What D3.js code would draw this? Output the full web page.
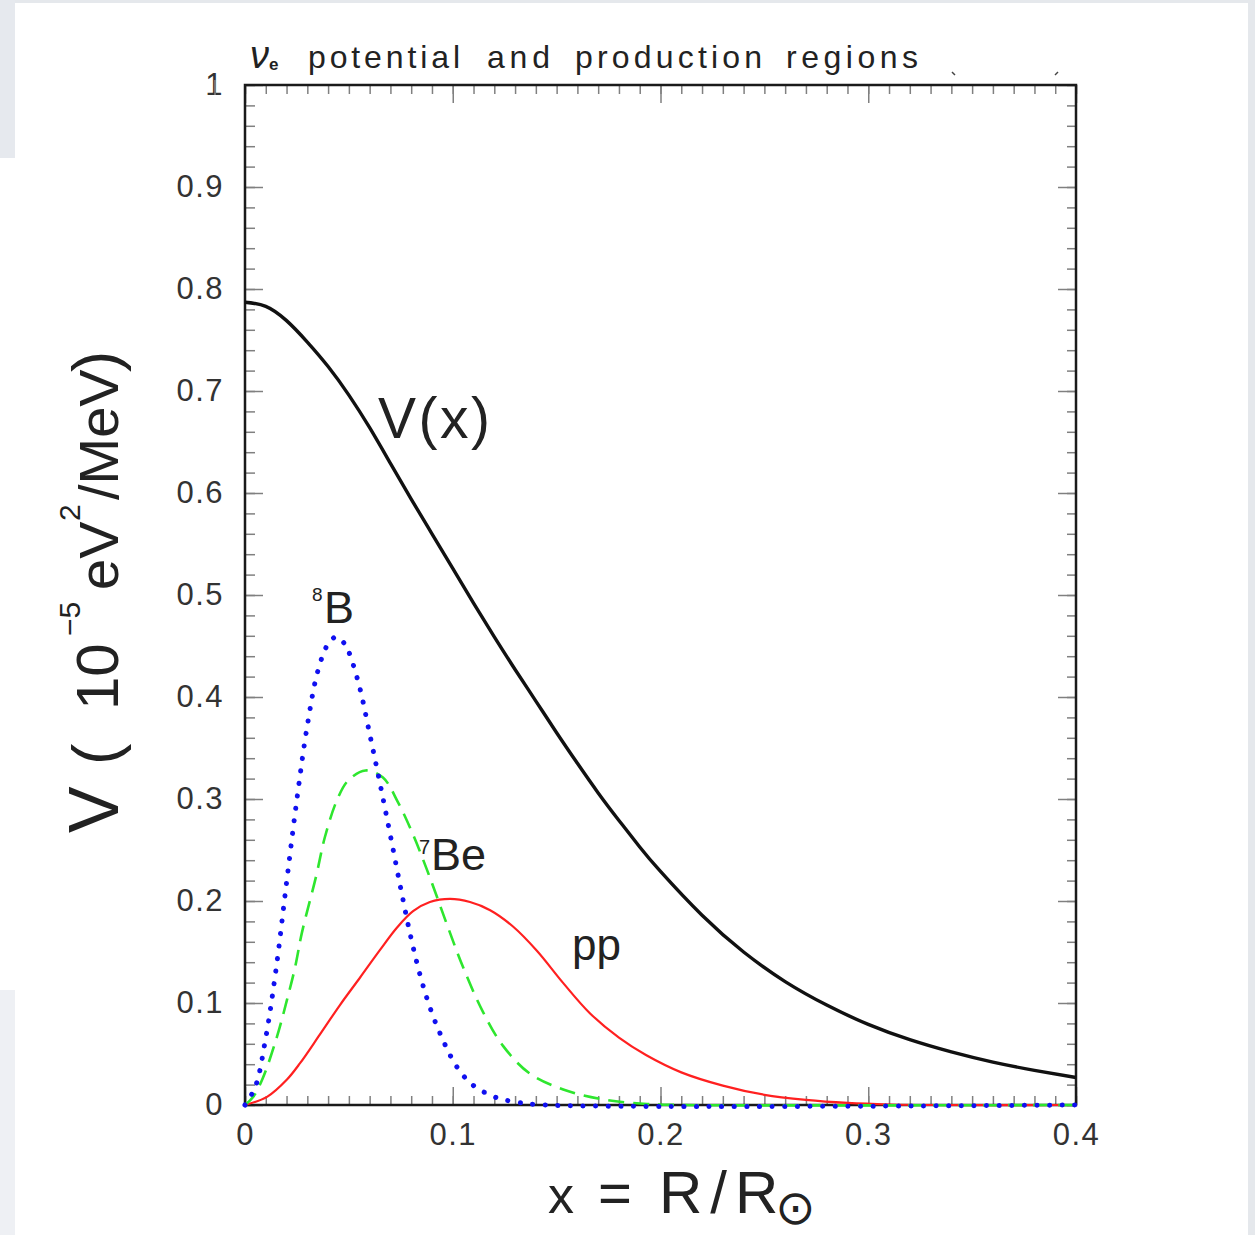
<!DOCTYPE html>
<html>
<head>
<meta charset="utf-8">
<script src="https://cdn.jsdelivr.net/npm/d3@7"></script>
<style>
	body { margin: 0; background: #fff; }
	svg { display: block; }
	text { font-family: "Liberation Sans", Arial, sans-serif; fill: #222; }
	.axis path { display: none; }
	.axis line { stroke: #808080; stroke-width: 1.5; }
	.axis text { font-family: "Liberation Sans", Arial, sans-serif; font-size: 31px; fill: #333; letter-spacing: 1.5px; }
</style>
</head>
<body>
<div id="chart"></div>
<script>

// tick values + labels
var xMajor = [0, 0.1, 0.2, 0.3, 0.4];
var xLabels = ["0", "0.1", "0.2", "0.3", "0.4"];
var yMajor = [0, 0.1, 0.2, 0.3, 0.4, 0.5, 0.6, 0.7, 0.8, 0.9, 1];
var yLabels = ["0", "0.1", "0.2", "0.3", "0.4", "0.5", "0.6", "0.7", "0.8", "0.9", "1"];
var xMinor = d3.range(0, 41).map(function(i){ return i / 100; });	// every 0.01
var yMinor = d3.range(0, 51).map(function(i){ return i / 50; });	// every 0.02

// V(x) potential (black)
var vX = [0, 0.01, 0.02, 0.03, 0.04, 0.05, 0.06, 0.07, 0.08, 0.09, 0.10, 0.11, 0.12, 0.13, 0.14, 0.15,
	0.16, 0.17, 0.18, 0.19, 0.20, 0.22, 0.24, 0.26, 0.28, 0.30, 0.32, 0.34, 0.36, 0.38, 0.40];
var vY = [0.787, 0.783, 0.769, 0.748, 0.724, 0.696, 0.664, 0.629, 0.594, 0.560, 0.526, 0.492, 0.459, 0.427, 0.396, 0.365,
	0.335, 0.306, 0.279, 0.253, 0.229, 0.186, 0.150, 0.121, 0.098, 0.079, 0.064, 0.052, 0.042, 0.034, 0.027];

// 8B production region (blue, dotted)
var b8X = [0, 0.005, 0.01, 0.015, 0.02, 0.025, 0.03, 0.035, 0.04, 0.044, 0.048, 0.05, 0.055, 0.06, 0.065,
	0.07, 0.075, 0.08, 0.085, 0.09, 0.095, 0.10, 0.105, 0.11, 0.12, 0.13, 0.145, 0.40];
var b8Y = [0, 0.018, 0.066, 0.134, 0.218, 0.300, 0.372, 0.425, 0.452, 0.459, 0.452, 0.444, 0.411, 0.364, 0.315,
	0.264, 0.212, 0.163, 0.122, 0.090, 0.065, 0.044, 0.029, 0.019, 0.008, 0.003, 0, 0];

// 7Be production region (green, dashed)
var be7X = [0, 0.004, 0.0087, 0.0154, 0.0202, 0.0241, 0.0274, 0.0342, 0.0385, 0.0443, 0.0496, 0.058, 0.0664,
	0.0736, 0.0809, 0.089, 0.0972, 0.105, 0.1146, 0.1242, 0.137, 0.155, 0.174, 0.1935, 0.209, 0.40];
var be7Y = [0, 0.008, 0.027, 0.067, 0.103, 0.135, 0.169, 0.224, 0.263, 0.299, 0.318, 0.328, 0.321,
	0.297, 0.265, 0.223, 0.177, 0.135, 0.091, 0.058, 0.031, 0.014, 0.005, 0.001, 0, 0];

// pp production region (red, solid)
var ppX = [0, 0.0106, 0.0202, 0.0265, 0.036, 0.0457, 0.0554, 0.065, 0.0732, 0.0809, 0.089, 0.0987, 0.1083, 0.118,
	0.129, 0.1406, 0.153, 0.166, 0.18, 0.193, 0.21, 0.23, 0.25, 0.27, 0.29, 0.31, 0.33, 0.40];
var ppY = [0, 0.008, 0.025, 0.041, 0.069, 0.098, 0.125, 0.152, 0.174, 0.190, 0.199, 0.202, 0.199, 0.191,
	0.175, 0.151, 0.120, 0.090, 0.066, 0.049, 0.032, 0.019, 0.010, 0.005, 0.002, 0.0005, 0, 0];


var width = 1255, height = 1235;
var frame = { left: 245, right: 1076, top: 85, bottom: 1105 };

var svg = d3.select("#chart").append("svg")
	.attr("width", width)
	.attr("height", height);

// grey page edges around the white panel
svg.append("rect").attr("x", 0).attr("y", 0).attr("width", width).attr("height", 3).attr("fill", "#e5e8ec");
svg.append("rect").attr("x", 0).attr("y", 0).attr("width", 15).attr("height", 158).attr("fill", "#e6e9ee");
svg.append("rect").attr("x", 0).attr("y", 990).attr("width", 15).attr("height", 245).attr("fill", "#eef0f4");
svg.append("rect").attr("x", 1248).attr("y", 0).attr("width", 7).attr("height", height).attr("fill", "#e5e8ec");

var xScale = d3.scaleLinear().domain([0, 0.4]).range([frame.left, frame.right]);
var yScale = d3.scaleLinear().domain([0, 1]).range([frame.bottom, frame.top]);

/*
 *	AXES (ticks pointing inward on all four sides)
 */
function axis(gen, tr){
	svg.append("g").attr("class", "axis").attr("transform", tr).call(gen);
}
axis(d3.axisBottom(xScale).tickValues(xMinor).tickSize(-9).tickFormat(""), "translate(0," + frame.bottom + ")");
axis(d3.axisBottom(xScale).tickValues(xMajor).tickSize(-18).tickPadding(18)
	.tickFormat(function(d, i){ return xLabels[i]; }), "translate(0," + frame.bottom + ")");
axis(d3.axisTop(xScale).tickValues(xMinor).tickSize(-9).tickFormat(""), "translate(0," + frame.top + ")");
axis(d3.axisTop(xScale).tickValues(xMajor).tickSize(-18).tickFormat(""), "translate(0," + frame.top + ")");
axis(d3.axisLeft(yScale).tickValues(yMinor).tickSize(-10).tickFormat(""), "translate(" + frame.left + ",0)");
axis(d3.axisLeft(yScale).tickValues(yMajor).tickSize(-18).tickPadding(21)
	.tickFormat(function(d, i){ return yLabels[i]; }), "translate(" + frame.left + ",0)");
axis(d3.axisRight(yScale).tickValues(yMinor).tickSize(-9).tickFormat(""), "translate(" + frame.right + ",0)");
axis(d3.axisRight(yScale).tickValues(yMajor).tickSize(-18).tickFormat(""), "translate(" + frame.right + ",0)");

// frame
svg.append("rect")
	.attr("x", frame.left).attr("y", frame.top)
	.attr("width", frame.right - frame.left).attr("height", frame.bottom - frame.top)
	.attr("fill", "none").attr("stroke", "#1a1a1a").attr("stroke-width", 2.5);

// stray marks of the original picture
svg.append("line").attr("x1", 215).attr("x2", 215).attr("y1", 80).attr("y2", 95).attr("stroke", "#888").attr("stroke-width", 1.5);
svg.append("line").attr("x1", 952).attr("x2", 955).attr("y1", 72).attr("y2", 75).attr("stroke", "#444").attr("stroke-width", 1.5);
svg.append("line").attr("x1", 1058).attr("x2", 1055).attr("y1", 72).attr("y2", 75).attr("stroke", "#444").attr("stroke-width", 1.5);

/*
 *	CURVES
 */
function line(curve){
	return d3.line()
		.x(function(d){ return xScale(d[0]); })
		.y(function(d){ return yScale(d[1]); })
		.curve(curve);
}
var smooth = d3.curveCatmullRom.alpha(0.5);

svg.append("path").datum(d3.zip(ppX, ppY))
	.attr("d", line(smooth)).attr("fill", "none")
	.attr("stroke", "#ff2020").attr("stroke-width", 2.2);

svg.append("path").datum(d3.zip(be7X, be7Y))
	.attr("d", line(smooth)).attr("fill", "none")
	.attr("stroke", "#2ee62e").attr("stroke-width", 2.6)
	.attr("stroke-dasharray", "16,9");

svg.append("path").datum(d3.zip(b8X, b8Y))
	.attr("d", line(smooth)).attr("fill", "none")
	.attr("stroke", "#1010f0").attr("stroke-width", 5)
	.attr("stroke-linecap", "round")
	.attr("stroke-dasharray", "0.1,12.5");

svg.append("path").datum(d3.zip(vX, vY))
	.attr("d", line(d3.curveNatural)).attr("fill", "none")
	.attr("stroke", "#111").attr("stroke-width", 3.4);

/*
 *	LABELS
 */
// title
var title = svg.append("text").attr("x", 250).attr("y", 68);
title.append("tspan").text("ν").style("font-style", "italic").style("font-size", "38px");
title.append("tspan").text("e").style("font-size", "17px").style("font-weight", "bold").attr("dy", 2);
var words = [["potential", 308, 152], ["and", 487, 63], ["production", 575, 187], ["regions", 786, 132]];
words.forEach(function(w){
	svg.append("text").attr("x", w[1]).attr("y", 68)
		.attr("textLength", w[2]).attr("lengthAdjust", "spacing")
		.style("font-size", "32px")
		.text(w[0]);
});

// y axis title, written upward piece by piece: [text, start y, font size, baseline x]
var yTitle = [["V", 833, 70, 118], ["(", 765, 64, 118], ["10", 710, 60, 118], ["−5", 636, 30, 80],
	["eV", 590, 56, 118], ["2", 521, 30, 80], ["/MeV", 500, 56, 118], [")", 372, 64, 118]];
yTitle.forEach(function(p){
	svg.append("text")
		.attr("transform", "translate(" + p[3] + "," + p[1] + ") rotate(-90)")
		.style("font-size", p[2] + "px")
		.text(p[0]);
});

// x axis title
var xTitle = [["x", 548, 52], ["=", 598, 58]];
xTitle.forEach(function(p){
	svg.append("text").attr("x", p[1]).attr("y", 1213)
		.style("font-size", p[2] + "px")
		.text(p[0]);
});
var rr = svg.append("text").attr("x", 659).attr("y", 1213).style("font-size", "60px");
rr.append("tspan").style("letter-spacing", "8px").text("R/");
rr.append("tspan").text("R");
rr.append("tspan").attr("dy", 11).attr("dx", -3)
	.style("font-family", "DejaVu Sans").style("font-size", "48px")
	.text("⊙");

// curve labels
svg.append("text").attr("x", 378).attr("y", 438).attr("textLength", 112).attr("lengthAdjust", "spacing")
	.style("font-size", "57px").text("V(x)");
svg.append("text").attr("x", 312).attr("y", 601).style("font-size", "19px").text("8");
svg.append("text").attr("x", 324).attr("y", 623).style("font-size", "45px").text("B");
svg.append("text").attr("x", 419).attr("y", 854).style("font-size", "20px").text("7");
svg.append("text").attr("x", 431).attr("y", 870).style("font-size", "45px").text("Be");
svg.append("text").attr("x", 572).attr("y", 960).style("font-size", "44px").text("pp");

</script>
</body>
</html>
